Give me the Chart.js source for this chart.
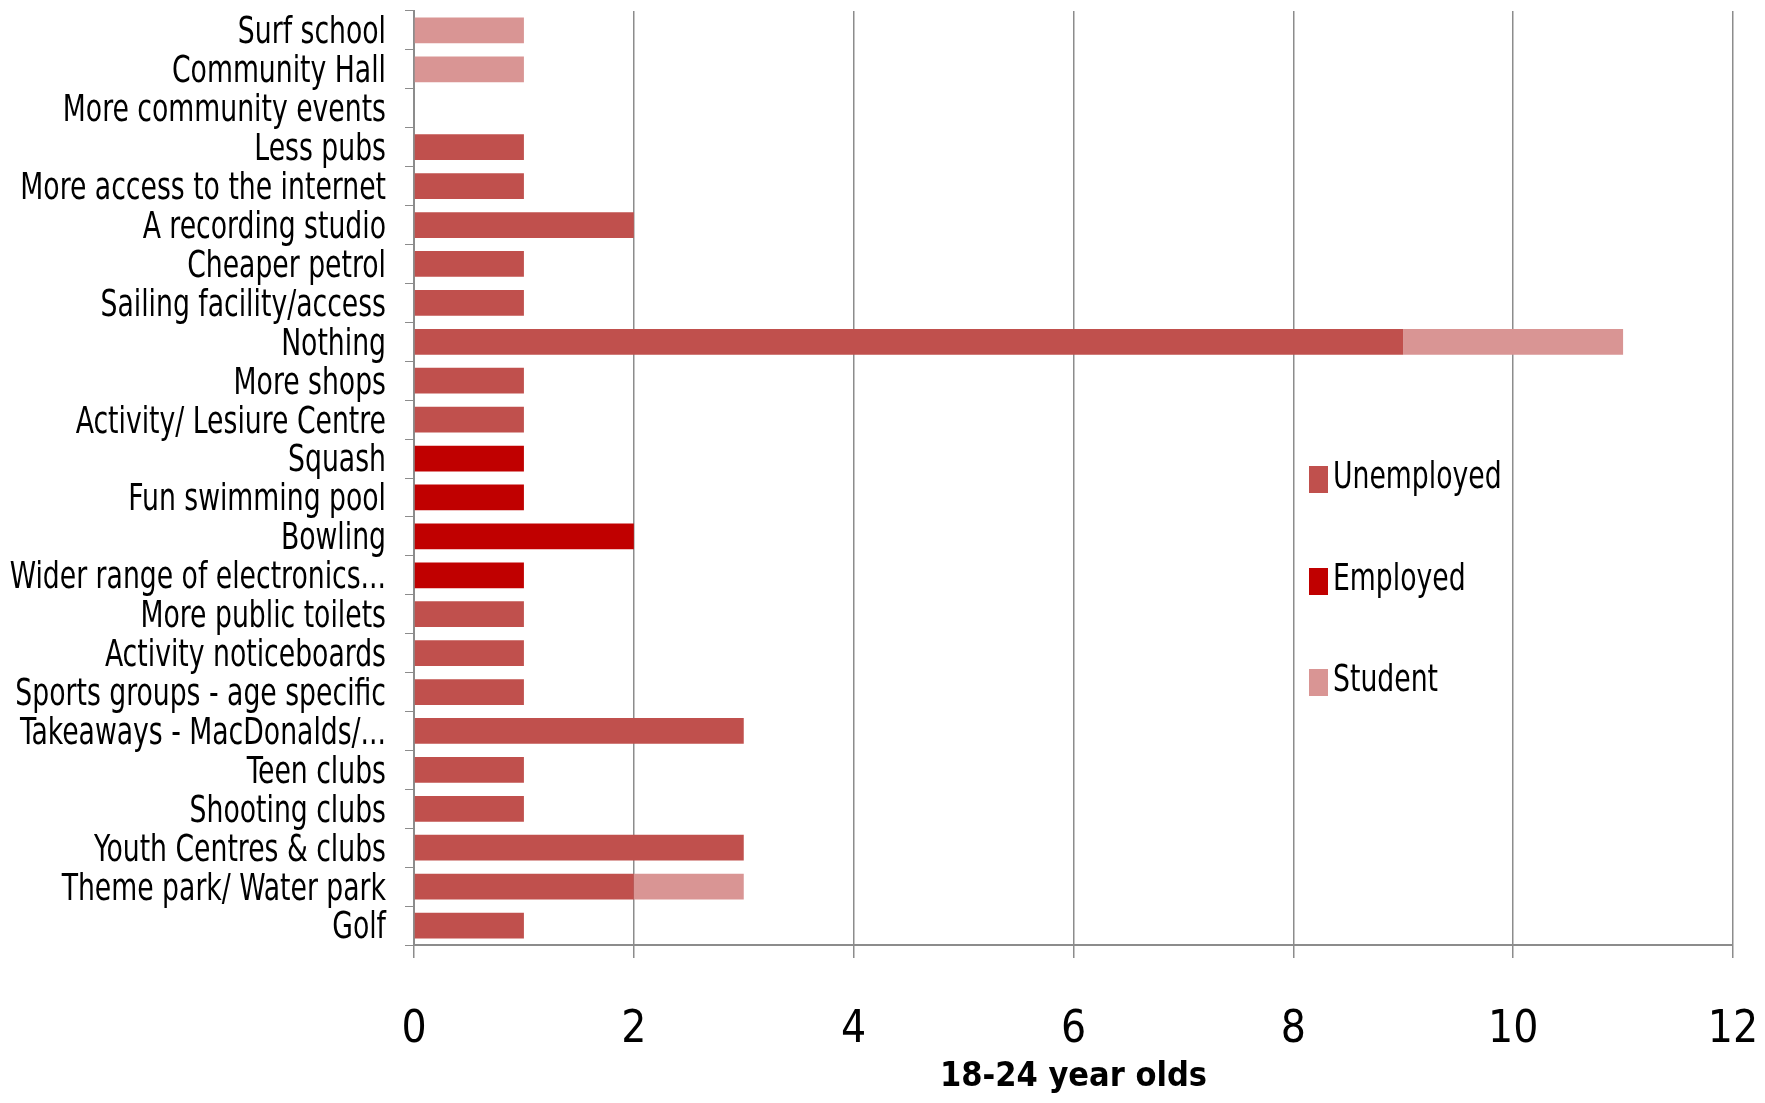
<!DOCTYPE html>
<html>
<head>
<meta charset="utf-8">
<script src="https://cdn.jsdelivr.net/npm/chart.js@4"></script>
<style>
  html, body { margin: 0; padding: 0; background: #fff; }
  #wrap { width: 1765px; height: 1103px; }
</style>
</head>
<body>
<div id="wrap"><canvas id="grafico"></canvas></div>
<script>
// ===============================
// DATOS
// ===============================

const categorias = [
  "Surf school",
  "Community Hall",
  "More community events",
  "Less pubs",
  "More access to the internet",
  "A recording studio",
  "Cheaper petrol",
  "Sailing facility/access",
  "Nothing",
  "More shops",
  "Activity/ Lesiure Centre",
  "Squash",
  "Fun swimming pool",
  "Bowling",
  "Wider range of electronics...",
  "More public toilets",
  "Activity noticeboards",
  "Sports groups - age specific",
  "Takeaways - MacDonalds/...",
  "Teen clubs",
  "Shooting clubs",
  "Youth Centres & clubs",
  "Theme park/ Water park",
  "Golf"
];

const unemployed = [0, 0, 0, 1, 1, 2, 1, 1, 9, 1, 1, 0, 0, 0, 0, 1, 1, 1, 3, 1, 1, 3, 2, 1];
const employed   = [0, 0, 0, 0, 0, 0, 0, 0, 0, 0, 0, 1, 1, 2, 1, 0, 0, 0, 0, 0, 0, 0, 0, 0];
const student    = [1, 1, 0, 0, 0, 0, 0, 0, 2, 0, 0, 0, 0, 0, 0, 0, 0, 0, 0, 0, 0, 0, 1, 0];

const ticksX = [0, 2, 4, 6, 8, 10, 12];
const tituloX = "18-24 year olds";

// ===============================
// ESTILO
// ===============================

const fuente = '"DejaVu Sans Condensed", "Liberation Sans Narrow", "Open Sans", sans-serif';
const gris = "#8c8c8c";
const estrechar = 0.78; // el texto original es alto y estrecho

// texto estrecho: se dibuja escalado solo en horizontal
function textoEstrecho(ctx, texto, x, y, alinear) {
  ctx.save();
  ctx.translate(x, y);
  ctx.scale(estrechar, 1);
  ctx.textAlign = alinear;
  ctx.fillText(texto, 0, 0);
  ctx.restore();
}

// etiquetas del eje Y
const etiquetasPlugin = {
  id: "etiquetasY",
  afterDraw(chart) {
    const ctx = chart.ctx;
    const escala = chart.scales.y;
    ctx.save();
    ctx.font = "38px " + fuente;
    ctx.fillStyle = "#000";
    ctx.textBaseline = "middle";
    chart.data.labels.forEach(function (etiqueta, i) {
      textoEstrecho(ctx, etiqueta, escala.right - 28, escala.getPixelForValue(i) + 3, "right");
    });
    ctx.restore();
  }
};

// leyenda dibujada dentro del area del grafico
const leyendaPlugin = {
  id: "leyendaDentro",
  afterDraw(chart) {
    const ctx = chart.ctx;
    const posY = [478, 580, 681];
    ctx.save();
    ctx.font = "38px " + fuente;
    ctx.textBaseline = "middle";
    chart.data.datasets.forEach(function (ds, i) {
      ctx.fillStyle = ds.backgroundColor;
      ctx.fillRect(1309, posY[i] - 12, 19, 27);
      ctx.fillStyle = "#000";
      textoEstrecho(ctx, ds.label, 1333, posY[i], "left");
    });
    ctx.restore();
  }
};

const ctx = document.getElementById("grafico").getContext("2d");

new Chart(ctx, {
  type: "bar",
  data: {
    labels: categorias,
    datasets: [
      { label: "Unemployed", data: unemployed, backgroundColor: "#C0504D" },
      { label: "Employed", data: employed, backgroundColor: "#C00000" },
      { label: "Student", data: student, backgroundColor: "#D99594" }
    ]
  },
  options: {
    indexAxis: "y",
    responsive: true,
    maintainAspectRatio: false,
    animation: false,
    layout: { padding: { top: 11, right: 0, left: 0, bottom: 0 } },
    datasets: { bar: { categoryPercentage: 0.66, barPercentage: 1 } },
    plugins: {
      legend: { display: false },
      tooltip: { enabled: false }
    },
    scales: {
      x: {
        stacked: true,
        min: 0,
        max: 12,
        afterBuildTicks(scale) {
          scale.ticks = ticksX.map(function (v) { return { value: v }; });
        },
        grid: { color: gris, lineWidth: 1.5, tickLength: 13 },
        border: { color: gris, width: 2 },
        ticks: { color: "#000", font: { family: fuente, size: 44 }, padding: 46 },
        title: {
          display: true,
          text: tituloX,
          color: "#000",
          font: { family: fuente, size: 34, weight: "bold" },
          padding: { top: 0, bottom: 5 }
        },
        afterFit(scale) {
          scale.height = 158;
          scale.paddingRight = 32;
        }
      },
      y: {
        stacked: true,
        grid: { drawOnChartArea: false, color: gris, tickLength: 9, offset: true },
        border: { color: gris, width: 2 },
        ticks: { color: "rgba(0,0,0,0)", font: { size: 1 }, autoSkip: false },
        afterFit(scale) { scale.width = 414; }
      }
    }
  },
  plugins: [etiquetasPlugin, leyendaPlugin]
});
</script>
</body>
</html>
